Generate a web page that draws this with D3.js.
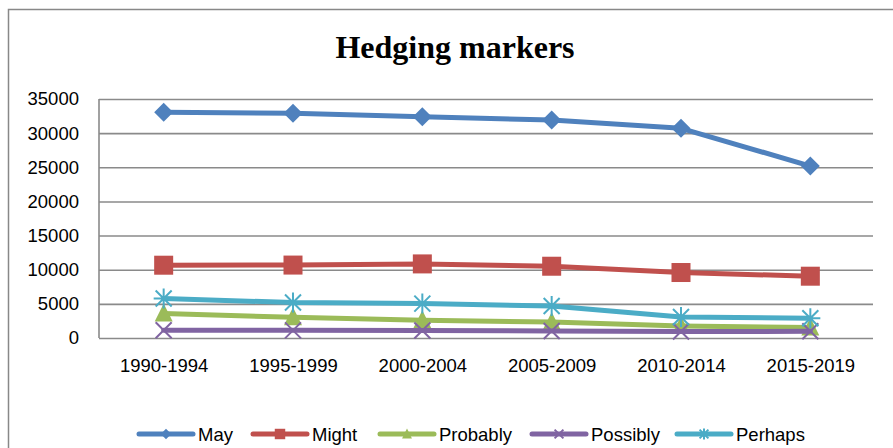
<!DOCTYPE html>
<html>
<head>
<meta charset="utf-8">
<script src="https://cdn.jsdelivr.net/npm/d3@7"></script>
<style>
  html, body { margin: 0; padding: 0; background: #fff; }
  svg { display: block; }
</style>
</head>
<body>
<script>
const categories = ["1990-1994", "1995-1999", "2000-2004", "2005-2009", "2010-2014", "2015-2019"];
const seriesNames = ["May", "Might", "Probably", "Possibly", "Perhaps"];
const may      = [33050, 32900, 32400, 31920, 30700, 25180];
const might    = [10660, 10680, 10850, 10510, 9590, 9050];
const probably = [3580, 3040, 2600, 2350, 1760, 1520];
const possibly = [1130, 1120, 1100, 1030, 940, 980];
const perhaps  = [5780, 5190, 5040, 4690, 3080, 2890];
const yTicks   = [0, 5000, 10000, 15000, 20000, 25000, 30000, 35000];
const titleText = "Hedging markers";

const seriesValues = [may, might, probably, possibly, perhaps];
const colors = ["#4F81BD", "#C0504D", "#9BBB59", "#8064A2", "#4BACC6"];
const markers = ["diamond", "square", "triangle", "cross", "star"];

const W = 893, H = 448;
const svg = d3.select("body").append("svg").attr("width", W).attr("height", H);

// outer chart border
svg.append("path")
  .attr("d", "M8.5," + (H + 5) + "V9.5H" + (W + 5))
  .attr("fill", "none").attr("stroke", "#888").attr("stroke-width", 1.5);

// title
svg.append("text")
  .attr("x", 455).attr("y", 58)
  .attr("text-anchor", "middle")
  .attr("font-family", "'Liberation Serif', 'Times New Roman', serif")
  .attr("font-weight", "bold").attr("font-size", 32)
  .attr("fill", "#000")
  .text(titleText);

const plot = { left: 99, right: 875, top: 99, bottom: 338 };
const x = d3.scalePoint().domain(categories).range([plot.left, plot.right]).padding(0.5);
const y = d3.scaleLinear().domain([0, 35000]).range([plot.bottom, plot.top]);

const font = "'Liberation Sans', Arial, sans-serif";

// gridlines
const yAxis = d3.axisLeft(y).tickValues(yTicks).tickSize(-(873 - plot.left)).tickPadding(20)
  .tickFormat(d3.format("d"));
const gy = svg.append("g").attr("transform", `translate(${plot.left},0)`).call(yAxis);
gy.select(".domain").remove();
gy.selectAll(".tick line").attr("stroke", "#8a8a8a").attr("stroke-width", 1.6);
gy.selectAll(".tick text").attr("font-family", font).attr("font-size", 18.5).attr("fill", "#000")
  .attr("x", -20);

// left axis line
svg.append("line").attr("x1", plot.left).attr("x2", plot.left)
  .attr("y1", plot.top).attr("y2", plot.bottom)
  .attr("stroke", "#8a8a8a").attr("stroke-width", 1.6);

// x axis labels
const xAxis = d3.axisBottom(x).tickSize(0).tickPadding(21);
const gx = svg.append("g").attr("transform", `translate(0,${plot.bottom})`).call(xAxis);
gx.select(".domain").remove();
gx.selectAll(".tick text").attr("font-family", font).attr("font-size", 18.5).attr("fill", "#000");

// marker drawing
function drawMarker(g, type, color, s) {
  if (type === "diamond") {
    g.append("path").attr("d", `M0,${-9.5*s}L${9.5*s},0L0,${9.5*s}L${-9.5*s},0Z`).attr("fill", color);
  } else if (type === "square") {
    g.append("rect").attr("x", -9.5*s).attr("y", -9.5*s).attr("width", 19*s).attr("height", 19*s).attr("fill", color);
  } else if (type === "triangle") {
    g.append("path").attr("d", `M0,${-10*s}L${9*s},${8*s}L${-9*s},${8*s}Z`).attr("fill", color);
  } else if (type === "cross") {
    g.append("path").attr("d", `M${-8*s},${-8*s}L${8*s},${8*s}M${8*s},${-8*s}L${-8*s},${8*s}`)
      .attr("stroke", color).attr("stroke-width", 2).attr("fill", "none");
  } else if (type === "star") {
    g.append("path").attr("d", `M${-8*s},${-8*s}L${8*s},${8*s}M${8*s},${-8*s}L${-8*s},${8*s}M0,${-10*s}V${10*s}M${-10*s},0H${10*s}`)
      .attr("stroke", color).attr("stroke-width", 2).attr("fill", "none");
  }
}

const line = d3.line().x((d, i) => x(categories[i])).y(d => y(d));

seriesValues.forEach((vals, si) => {
  const g = svg.append("g");
  g.append("path").datum(vals).attr("d", line)
    .attr("fill", "none").attr("stroke", colors[si]).attr("stroke-width", 5)
    .attr("stroke-linejoin", "round").attr("stroke-linecap", "round");
  vals.forEach((v, i) => {
    const mg = g.append("g").attr("transform", `translate(${x(categories[i])},${y(v)})`);
    drawMarker(mg, markers[si], colors[si], 1);
  });
});

// legend
const legendX = [137, 251, 378, 530, 675];
const legendY = 434;
seriesNames.forEach((name, si) => {
  const lg = svg.append("g").attr("transform", `translate(${legendX[si]},${legendY})`);
  lg.append("line").attr("x1", 2).attr("x2", 56).attr("y1", 0).attr("y2", 0)
    .attr("stroke", colors[si]).attr("stroke-width", 5).attr("stroke-linecap", "round");
  const mg = lg.append("g").attr("transform", "translate(29,0)");
  drawMarker(mg, markers[si], colors[si], 0.55);
  lg.append("text").attr("x", 61).attr("y", 6.5)
    .attr("font-family", font).attr("font-size", 18.5).attr("fill", "#000")
    .text(name);
});
</script>
</body>
</html>
